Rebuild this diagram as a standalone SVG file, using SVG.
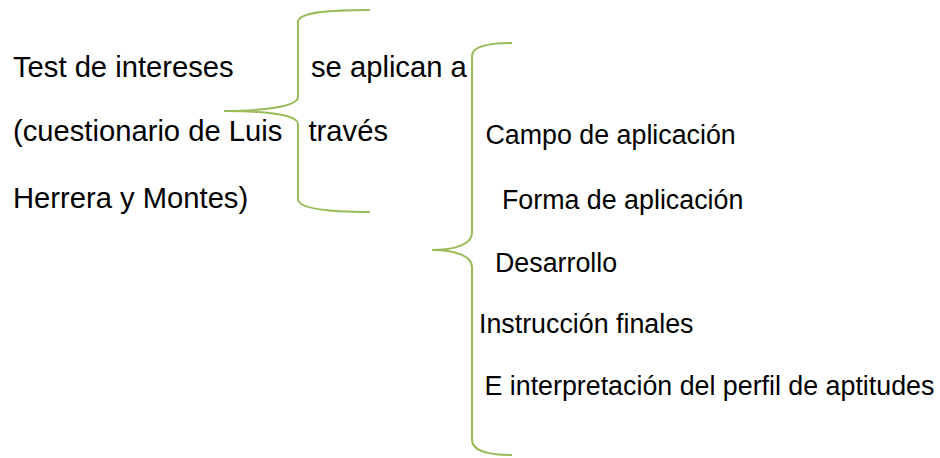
<svg xmlns="http://www.w3.org/2000/svg" width="940" height="458" viewBox="0 0 940 458">
<style>
text{font-family:"Liberation Sans",Arial,sans-serif;fill:#000;}
.l{font-size:29.2px;}
.r{font-size:26.8px;}
.brace{fill:none;stroke:#9BBB59;stroke-width:2;}
</style>
<rect width="940" height="458" fill="#fff"/>
<g id="connectors">
<path class="brace" d="M370,10 C330,10 298,12 298,22 L298,97 C298,107 260,111 224,111 C260,111 298,114 298,124 L298,199 C298,209 330,212 370,212"/>
<path class="brace" d="M512,43 C490,43 472,46 472,56 L472,233 C472,244 455,250 432,250 C455,250 472,256 472,267 L472,440 C472,451 490,455 512,455"/>
</g>
<g id="test"><text class="l" x="13" y="77">Test de intereses</text><text class="l" x="13" y="141">(cuestionario de Luis</text><text class="l" x="13" y="208">Herrera y Montes)</text></g>
<g id="aplican"><text class="l" x="311" y="77">se aplican a</text><text class="l" x="308.5" y="141">través</text></g>
<g id="campo"><text class="r" x="485.5" y="144">Campo de aplicación</text></g>
<g id="forma"><text class="r" x="502" y="209">Forma de aplicación</text></g>
<g id="desarrollo"><text class="r" x="495" y="272">Desarrollo</text></g>
<g id="instruccion"><text class="r" x="479" y="333">Instrucción finales</text></g>
<g id="interpretacion"><text class="r" x="484.5" y="395">E interpretación del perfil de aptitudes</text></g>
</svg>
